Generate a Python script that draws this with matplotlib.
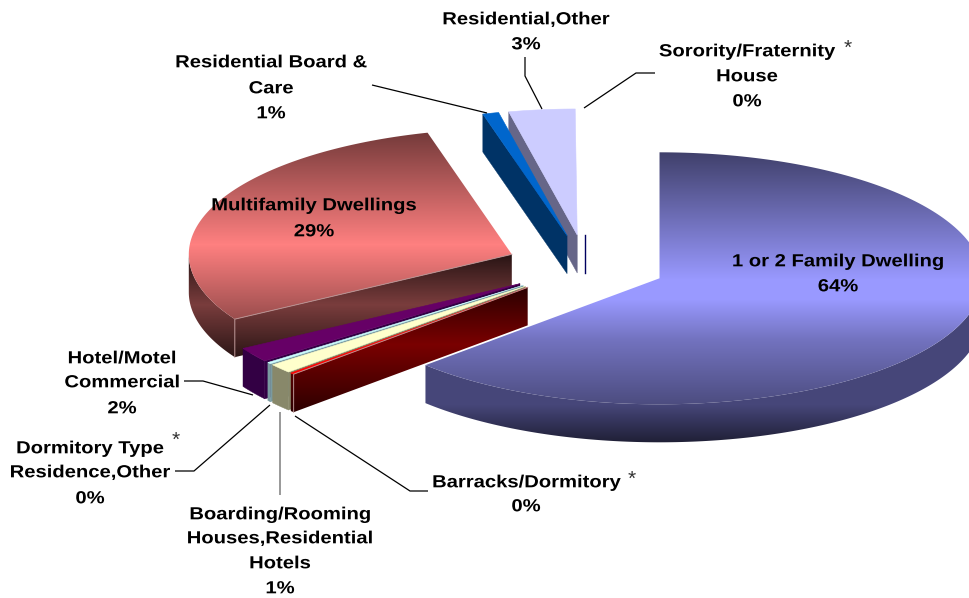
import numpy as np
import matplotlib
matplotlib.use('Agg')
import matplotlib.pyplot as plt
from matplotlib.colors import to_rgb
from matplotlib.patches import Polygon
from matplotlib.patheffects import AbstractPathEffect
from matplotlib.transforms import Affine2D

plt.rcParams['font.family'] = ['Liberation Sans', 'DejaVu Sans']

# clockwise from 12 o'clock, wedge sizes
categories = ['1 or 2 Family Dwelling', 'Barracks/Dormitory', 'Boarding/Rooming Houses,Residential Hotels',
              'Dormitory Type Residence,Other', 'Hotel/Motel Commercial', 'Multifamily Dwellings',
              'Residential Board & Care', 'Residential,Other', 'Sorority/Fraternity House']
values = [62.9, 0.2, 1.2, 0.2, 1.9, 29.4, 0.8, 3.3, 0.1]
top_colors = ['#9999ff', '#ff0000', '#ffffcc', '#ccffff', '#660066', '#ff8080', '#0066cc', '#ccccff', '#ffffff']
side_colors = ['#4a4a80', '#800000', '#88886a', '#7a9aa0', '#330044', '#804040', '#003366', '#666688', '#000060']

# pie projection, in pixels
CX, CY = 586, 266
RX, RY = 323, 126
EXPLODE = 80
SQUASH = RY / RX
DEPTH = 38

fig = plt.figure(figsize=(9.7, 5.98), dpi=100)
ax = fig.add_axes([0, 0, 1, 1])


class Widen(AbstractPathEffect):
    # the labels are set wide, stretch them about their centre
    def __init__(self, cx, factor=1.155):
        super().__init__()
        self.cx = cx
        self.factor = factor

    def draw_path(self, renderer, gc, tpath, affine, rgbFace=None):
        wide = Affine2D().translate(-self.cx, 0).scale(self.factor, 1).translate(self.cx, 0)
        renderer.draw_path(gc, tpath, affine + wide, rgbFace)


def shade(poly, color, stops):
    # vertical gradient clipped to a polygon, stops = [(y, brightness), ...]
    poly = np.array(poly)
    ys = np.arange(0, 599)
    k = np.interp(ys, [s[0] for s in stops], [s[1] for s in stops])
    img = (np.array(to_rgb(color))[None, :] * k[:, None])[:, None, :]
    im = ax.imshow(np.clip(img, 0, 1), extent=(0, 970, 598.5, -0.5), aspect='auto', zorder=z[0])
    patch = Polygon(poly, closed=True, transform=ax.transData, fc='none', ec='none')
    ax.add_patch(patch)
    im.set_clip_path(patch)
    z[0] += 1


def flat(poly, color, lw=0.0):
    ax.add_patch(Polygon(poly, closed=True, fc=color, ec=color, lw=lw, zorder=z[0]))
    z[0] += 1


def rim(ax0, ay0, a):
    return np.column_stack([ax0 + RX * np.sin(a), ay0 - RY * np.cos(a)])


z = [1]
edges = np.cumsum([0] + values) / sum(values) * 2 * np.pi
stops_top = {0: [(153, 0.42), (280, 1.0), (300, 1.0), (340, 0.75), (405, 0.5)],
             5: [(132, 0.45), (245, 1.0), (330, 0.55)]}
stops_side = {0: [(300, 0.95), (405, 0.95), (443, 0.42)], 5: [(254, 0.3), (305, 0.95), (357, 0.35)],
              1: [(289, 0.35), (345, 0.95), (413, 0.35)]}

# back to front: family last, then the rest walking anticlockwise
for i in [8, 7, 6, 5, 4, 3, 2, 1, 0]:
    a0, a1 = edges[i], edges[i + 1]
    mid = (a0 + a1) / 2
    px = CX + EXPLODE * np.sin(mid)
    py = CY - EXPLODE * SQUASH * np.cos(mid)
    arc = rim(px, py, np.linspace(a0, a1, 200))

    if i == 8:
        # sliver: only the edge at the apex shows
        ax.plot([px - 1, px - 1], [py, py + DEPTH], color=side_colors[i], lw=1.0, zorder=z[0])
        z[0] += 1
        continue

    # cut face on the start edge, shows for everything but the big slice
    if i != 0:
        cut = [(px, py), tuple(arc[0]), (arc[0][0], arc[0][1] + DEPTH), (px, py + DEPTH)]
        if i in stops_side:
            shade(cut, side_colors[i], stops_side[i])
        else:
            flat(cut, side_colors[i], 0.3)
    # outer wall, front half only
    lo, hi = max(a0, np.pi / 2), min(a1, 3 * np.pi / 2)
    if hi > lo:
        wall = rim(px, py, np.linspace(lo, hi, 200))
        poly = np.vstack([wall, (wall + [0, DEPTH])[::-1]])
        if i in stops_side:
            shade(poly, side_colors[i], stops_side[i])
        else:
            flat(poly, side_colors[i], 0.3)
    top = np.vstack([[(px, py)], arc])
    if i in stops_top:
        shade(top, top_colors[i], stops_top[i])
    else:
        flat(top, top_colors[i], 0.4)
    if i in (1, 5):
        # pale seam along the cut face
        ax.plot([px, arc[0][0], arc[0][0]], [py, arc[0][1], arc[0][1] + DEPTH],
                color='#b89090', lw=0.7, zorder=z[0])
        z[0] += 1

# leader lines
leaders = [([372, 487], [85, 113], 'black', 0.9),
           ([525, 525, 542], [57, 76, 109], 'black', 0.9),
           ([655, 636, 584], [73, 73, 108], 'black', 0.9),
           ([184, 203, 253], [381, 381, 395], 'black', 0.9),
           ([175, 194, 270], [471, 471, 405], 'black', 0.9),
           ([280, 280], [412, 495], '#888888', 1.2),
           ([428, 410, 295], [491, 491, 416], 'black', 0.9)]
for xs, ys, col, lw in leaders:
    ax.plot(xs, ys, color=col, lw=lw, zorder=50, solid_capstyle='butt')

# labels: centre x, line centres, lines
labels = [(526, [18, 43], ['Residential,Other', '3%']),
          (747, [50, 75, 100], ['Sorority/Fraternity', 'House', '0%']),
          (271, [61, 87, 112], ['Residential Board &', 'Care', '1%']),
          (314, [204, 230], ['Multifamily Dwellings', '29%']),
          (838, [260, 285], ['1 or 2 Family Dwelling', '64%']),
          (122, [357, 381, 407], ['Hotel/Motel', 'Commercial', '2%']),
          (90, [447, 471, 497], ['Dormitory Type', 'Residence,Other', '0%']),
          (280, [513, 537, 562, 587], ['Boarding/Rooming', 'Houses,Residential', 'Hotels', '1%']),
          (526, [481, 505], ['Barracks/Dormitory', '0%'])]
for x, ys, lines in labels:
    for y, line in zip(ys, lines):
        ax.text(x, y + 6.3, line, ha='center', va='baseline', fontsize=12.6, fontweight='bold',
                color='black', zorder=60, path_effects=[Widen(x)])

for x, y in [(848, 48), (176, 440), (632, 479)]:
    ax.text(x, y, '*', ha='center', va='center', fontsize=15, color='#333333', zorder=60)

ax.set_xlim(0, 970)
ax.set_ylim(598, 0)
ax.axis('off')
fig.savefig('out.png', dpi=100, facecolor='white')
